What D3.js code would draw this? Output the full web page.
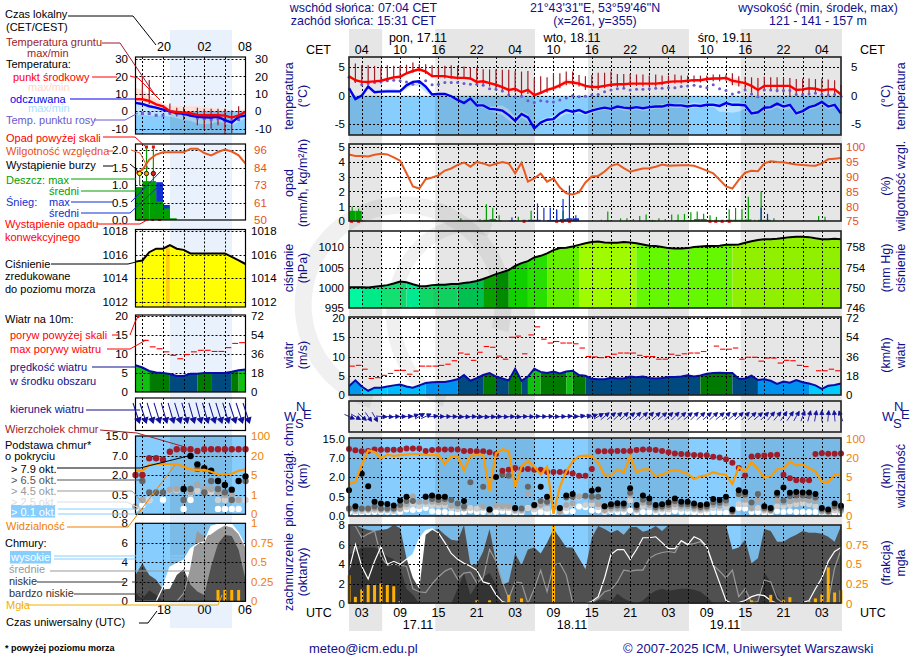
<!DOCTYPE html>
<html>
<head>
<meta charset="utf-8">
<script src="https://cdn.jsdelivr.net/npm/d3@7"></script>
<style>
body { margin: 0; background: #fff; }
svg { display: block; }
text { font-family: "Liberation Sans", Arial, sans-serif; font-size: 12px; }
</style>
</head>
<body>
<svg id="chart" width="910" height="660"></svg>
<script>
const n = null;

// ---- main meteogram, one value per hour, hour 1 = 01 UTC 17.11
const tempMid = [3.4,2.7,2.4,2.4,2.5,2.6,2.9,3.2,3.3,3.9,4.3,4.6,4.2,3.4,3.4,3.4,3.2,3.1,3.1,3.0,2.4,2.5,2.2,1.9,1.5,1.0,1.2,0.6,1.0,0.1,0.5,1.0,1.3,1.8,2.4,2.3,2.1,1.7,1.5,1.5,1.7,1.9,2.0,2.0,2.1,2.1,2.1,2.1,2.1,2.2,2.4,2.5,2.5,2.6,2.7,2.7,2.9,3.0,3.0,3.1,2.6,2.4,2.2,1.7,1.0,1.7,1.7,1.7,1.7,1.7,1.0,1.1,1.3,1.2,0.9,1.1,1.1,0.2];
const tempHi = [3.6,2.9,2.6,2.6,2.7,2.8,3.1,3.4,3.6,4.1,4.5,4.8,4.4,3.7,3.6,3.6,3.4,3.3,3.3,3.2,2.7,2.8,2.4,2.1,1.7,1.3,1.4,.9,1.2,.4,.8,1.3,1.7,2.3,2.9,2.8,2.6,2.0,1.7,1.7,1.9,2.1,2.2,2.2,2.3,2.4,2.4,2.3,2.3,2.4,2.6,2.7,2.7,2.8,2.9,2.9,3.1,3.2,3.3,3.3,3.2,3.0,2.6,2.0,1.3,2.0,2.0,2.0,2.0,2.0,1.3,1.3,1.6,1.5,1.2,1.4,1.4,.5];
const tempLo = [3.2,2.5,2.2,2.2,2.3,2.4,2.7,3.0,3.1,3.7,4.1,4.3,3.9,3.2,3.2,3.2,3.0,2.9,2.9,2.8,2.2,2.3,2.0,1.7,1.3,.8,1.0,.4,.8,-.1,.2,.7,1.0,1.4,1.9,1.9,1.7,1.4,1.3,1.3,1.5,1.7,1.8,1.8,1.9,1.9,1.9,1.9,1.9,2.0,2.2,2.3,2.3,2.4,2.5,2.5,2.7,2.8,2.7,2.7,1.9,1.7,1.5,1.2,.7,1.4,1.4,1.4,1.4,1.4,.8,.9,1.1,1.0,.7,.9,.9,0];
const feels = [1.3,-.6,0,1.6,.6,.7,.75,.75,.75,1.8,2.4,2.5,1.6,.2,.3,.3,-.1,-.75,-1.3,-.5,-1.7,-1.7,-2.3,-2.4,-2.6,-3.4,-4.4,-3.2,-3.8,-5.7,-4.7,-4.2,-4.1,-3.1,-2.5,-2.8,-2.5,-3.0,-2.6,-2.3,-2.1,-2.3,-1.9,-2.1,-2.2,-2.0,-2.2,-2.0,-1.9,-1.9,-1.6,-1.7,-1.7,-1.9,-1.7,-1.8,-1.6,-1.6,-1.8,-1.3,-1.6,-1.6,-1.7,-3.1,-2.9,-2.1,-2.0,-1.4,-1.9,-1.6,-3.1,-2.7,-2.0,-1.7,-1.1,-1.9,-1.6,-3.1];
const feelsHi = [1.4,-.4,.3,1.7,.8,1,1.2,1.2,1.0,1.9,2.5,2.6,1.8,.4,.5,.5,.1,-.5,-1.1,-.3,-1.4,-1.4,-2,-1.8,-1.7,-2.4,-3.7,-2.7,-3.3,-5.3,-4.3,-3.8,-3.6,-2.8,-2.2,-2.5,-2.3,-2.7,-2.3,-2,-1.9,-2.1,-1.7,-1.8,-1.9,-1.7,-1.9,-1.7,-1.6,-1.5,-1.3,-1.4,-1.3,-1.6,-1.2,-1.4,-1.3,-1.2,-1.5,-1,-1.2,-1.2,-1.4,-2.7,-2.5,-1.8,-1.7,-1.2,-1.6,-1.3,-2.7,-2.4,-1.7,-1.4,-.9,-1.6,-1.3,-2.8];
const feelsLo = [1.1,-.8,-.3,1.3,.4,.5,.5,.5,.4,1.2,1.8,1.6,.6,-.1,0,0,-.4,-1,-1.6,-.9,-2,-2.1,-2.6,-3,-3.4,-4.3,-5.1,-3.8,-4.5,-6,-5.1,-4.7,-4.5,-3.8,-3.1,-3.2,-3,-3.4,-3.1,-2.7,-2.5,-2.7,-2.3,-2.6,-2.7,-2.4,-2.7,-2.5,-2.3,-2.3,-2,-2.2,-2.1,-2.3,-2.1,-2.1,-1.9,-2,-2.8,-2.8,-3,-2.8,-2.3,-3.5,-3.2,-2.6,-2.5,-2,-2.6,-2.3,-3.5,-3.1,-2.4,-2.2,-1.6,-2.4,-2,-3.5];
const dewPoint = [3.2,2.6,1.9,2.1,2.3,2.4,2.6,2.7,2.6,2.4,2.0,2.3,2.6,1.9,2.0,2.3,2.3,2.3,2.1,2.0,2.0,1.8,1.2,1.1,.8,.1,-.2,-.1,-.9,-1.2,-.9,-1,-1.1,-.75,-.4,0,-.2,-.1,.1,.2,.7,1,1.2,1.3,1.0,1.1,1.1,1.2,1.3,1.3,1.4,1.4,1.6,1.7,1.8,1.6,1.4,1.9,1.2,.9,.3,.6,1,.3,-.2,1,1,.9,.9,.9,.2,.2,.3,.4,.2,.1,.2,-.1];
const groundMax = [n,5.6,5.3,5.3,5.2,5.0,5.3,5.2,5.2,5.4,5.8,5.5,5.5,5.3,5.0,5.2,5.3,5.2,5.1,5.0,4.9,4.6,4.6,4.6,4.5,4.5,4.3,4.2,4.3,3.0,3.4,3.2,3.9,3.9,4.2,4.2,3.6,3.4,3.6,4,4,4.2,3.8,3.8,3.8,3.7,3.7,3.5,3.7,3.5,3.5,3.7,3.5,3.5,3.5,3.5,3.5,3.7,3.7,3.7,3.9,3.4,3.3,3.2,3.1,3.3,3.2,3.2,3.1,3.1,2.9,3.0,3.0,2.9,3.0,2.8,2.7,1.9];
const groundMin = [n,2.2,2.0,2.2,2.4,2.3,2.6,3.0,3.0,3.8,4.0,4.2,3.8,3.2,3.0,3.0,3.0,2.8,2.9,2.8,2.2,2.0,1.6,1.2,0.8,0.2,0.6,-0.1,0.3,-0.1,0.3,0.5,0.9,1.3,1.8,1.8,1.6,1.0,1.0,1.0,1.3,1.5,1.5,1.5,1.7,1.7,1.6,1.6,1.6,1.8,2.0,2.1,2.1,2.2,2.3,2.3,2.4,2.5,2.5,2.6,1.8,1.6,1.0,0.5,0.0,0.9,1.0,0.6,0.5,-0.1,0.2,0.2,0.3,0.3,0.2,0.3,0.3,0.1];

const humidity = [97.4,96.9,96.9,96.7,97.3,97.6,97.4,96.4,95.3,91.1,86.7,86,89.1,89.7,90.4,92,92.7,93.9,94.7,93.3,94.9,94.4,93.6,94.3,94.9,94.4,91.1,94.6,88.3,89.4,91,88.3,89.4,86.3,84.4,84,84.7,88,90,90.2,91.7,93.6,94.2,92.8,91.6,92.2,92.7,92.8,93.3,94,93.6,93.7,93.8,93.8,93.6,92.8,92,91.1,88.9,86.7,86,88.9,91.3,91.9,91.8,94.4,95.1,94.9,94.8,94.4,94,93.9,93.7,93.6,94.4,95.8,96,96.2];
const rainMaxHours = [1,2,3,18,21,22,23,24,27,29,33,34,40,41,43,44,45,46,47,48,49,50,51,52,53,54,55,56,57,58,60,61,62,63,64,65,66,67,74,75];
const rainMaxVals = [1.0,.85,.05,.2,.15,1.15,.9,.4,.3,.7,.75,.7,.1,.65,.2,.2,.15,.35,.45,.1,.2,.15,.45,.45,.5,.6,.65,.5,.4,.3,.8,.9,.8,1.65,.1,2.0,.2,.2,.35,.3];
const rainMeanHours = [1,2,21,22,23,24,41,48,52,53,54,55,56,57,58,60,61,62,63,65,66];
const rainMeanVals = [.7,.7,.04,.1,.15,.05,.05,.05,.07,.07,.08,.15,.15,.05,.05,.1,.1,.1,.12,.1,.1];
const snowMaxHours = [26,30,31,32,33,34,35,36,65,66];
const snowMaxVals = [.25,1.2,.9,.9,.8,1.5,2.4,.4,.9,.5];
const snowMeanHours = [26,29,30,32,33,34,35,36];
const snowMeanVals = [.05,.1,.1,.08,.08,.15,.2,.2];
const convectiveHours = [1.4,2.5,28.4,33.5,34.4,35.5,57.5,58.4,59.4,60.5];

const pressure = [1000.2,1000.2,1000.2,1000.1,1000.3,1000.5,1000.7,1001.1,1001.6,1001.4,1000.9,1000.5,1000.4,1000.7,1000.8,1000.8,1001,1001,1001.2,1001.4,1001.7,1002.2,1002.8,1003.4,1003.9,1004.4,1005.4,1006.1,1006.6,1007.5,1007.9,1008.5,1009.3,1009.8,1009.9,1010.2,1010.6,1011,1011.3,1011.4,1011.2,1011.1,1011.1,1011.3,1011.2,1011,1010.7,1010.4,1010.3,1010.1,1009.8,1009.7,1009.7,1009.8,1010.1,1010.2,1010.3,1010.3,1010.4,1010.6,1010.6,1010.7,1011.1,1011.5,1011.8,1012,1012,1012.1,1012.3,1012.5,1012.6,1012.6,1012.5,1012.2,1012,1012,1012.1,1012];
const pressureSegHours = [1,3,6,9,10,12,14,18,22,24,26,29,32,37,46,61,78];
const pressureSegColors = ['#00f8a0','#00ea88','#12e070','#10d868','#00e890','#10d868','#10d060','#00c050','#0a9f00','#008a00','#10d000','#28e000','#66f000','#a0fa00','#66f800','#90f000'];

const windSpeed = [2.3,3.8,2.2,1.1,1.9,1.9,2.2,2.5,2.7,2.2,1.9,2.5,3.1,3.3,3.4,3.4,3.7,4.1,5.2,3.7,4.4,5.2,5.7,4.8,4.3,3.8,6.8,3.7,4.8,6.8,6,5.7,6.1,5.6,6.1,6.3,5.2,5,4.2,4.1,4.1,4.5,4.3,4.3,4.8,4.6,4.8,4.4,4.3,4.4,4.7,4.7,4.8,5.1,4.8,5.1,5.5,5.7,5.8,5.7,5.7,4.2,4.3,5,3.9,4.1,3.7,2.9,3.5,3.2,3.9,3.3,3,2.5,1.6,2.4,2.6,3];
const windSegHours = [1,3,7,13,18,22,24,26,28,29,31,35,36,38,56,61,65,73,78];
const windSegColors = ['#0099ee','#00ccff','#00bbff','#0090ee','#004a80','#007a00','#004a80','#007a00','#004a80','#10c010','#007a00','#10c010','#007a00','#004a80','#007a00','#004a80','#0090ee','#00ccff'];
const gust = [7.5,7.7,6.7,4.3,4.5,5.1,5.6,6.4,6.4,5.4,6.2,7.5,7.5,7.5,7.7,8,8.9,10.9,10.6,9,11.1,12.6,12.4,10.1,9.3,15,15.3,10.7,15.6,17.7,14.5,13.5,13.9,13.5,13.5,13.3,12.2,10,9.9,9.7,10,10.6,10.9,10.9,10.9,10.3,10,10,9.3,9.3,10.6,10.3,10.7,10.9,10.9,11.3,n,12.7,11.9,11.9,12.2,9.3,9.8,9.8,8.8,9.6,9.6,8.3,9,8.9,7.7,7.4,n,6.3,6.3,6.7,6.3];
const windTo = [115,120,130,145,150,95,95,90,90,85,70,60,65,85,90,90,92,95,95,92,95,98,95,92,95,92,95,90,92,88,90,88,92,90,85,88,80,78,70,60,50,50,48,48,50,45,48,45,48,50,48,45,48,50,45,48,50,48,50,45,50,48,45,48,50,45,40,40,35,35,30,20,15,10,0,5,355,340];

const cloudTop = [10.6,10.1,9.7,9.8,10.4,10.3,10.3,10.3,10.3,10.8,10.8,10.8,9.8,10.2,10.4,10.4,10.4,10.4,9.8,9.8,9.7,9.7,9.3,8.5,3.6,3.9,4.3,4,4.1,3.9,3.9,3.3,3.3,3.3,3.2,2.9,2.3,2.3,4.1,9.7,9.7,9.7,9.8,9.8,9.8,10.2,10.4,10.4,10.2,9.8,9.3,8.8,8.5,8.4,8.1,8,8,7.4,7.1,6.6,5.7,4.3,2.4,7.5,7.8,7.9,8.1,8.2,2.6,1.9,1.75,1.75,1.75,8.5,8.9,8.6,8.6,8.8];
const base79 = [1.0,.25,2.85,1.3,.37,.32,.31,.27,.4,.5,n,n,.5,.6,.5,.5,n,n,.39,n,n,n,.16,2.0,n,n,.2,n,n,.28,1.25,.5,n,.2,.6,.7,n,n,.95,1.05,.25,.3,.33,.32,1.15,.28,.6,.45,.28,.3,.35,.45,.37,.37,.32,.28,.3,.44,.41,.5,.16,1.0,.85,n,n,.25,.2,.8,1.2,.8,.85,.82,.82,.7,.2,.16,.32,.26];
const base65 = [.19,.19,.19,.19,.24,.19,.19,.19,.28,.39,.39,n,.51,.44,.41,.44,.41,.32,.24,1.6,n,1.25,.16,n,2.6,2.3,.19,.19,1.25,.28,.39,.37,n,.19,.48,.5,n,.58,.5,.5,.24,.25,.27,.26,.8,.22,.42,.35,.22,.24,.28,.38,.3,.3,.26,.22,.24,.35,.34,.4,.12,.7,.65,.35,.7,.2,.16,.65,.4,.55,.6,.6,.55,.48,.16,.12,.25,.2];
const base45 = [.19,.16,.16,.16,.19,.16,.16,.16,.19,.3,.52,.37,.37,.37,.35,.35,.26,.24,.19,1.6,n,.24,.13,.26,.25,.25,.15,.15,.72,.24,.28,.33,n,.1,.28,.33,.52,.5,.41,.3,.15,.19,.2,.2,.6,.17,.34,.28,.18,.2,.22,.3,.24,.24,.2,.18,.2,.28,.26,.32,.1,.6,.42,.2,.4,.16,.14,.4,.35,.38,.42,.44,.4,.38,.12,.1,.2,.15];
const base25 = [.15,.12,.12,.14,.15,.14,.14,.12,.17,.22,.3,.25,.3,.28,.26,.26,.2,.17,.2,.2,.18,.2,.1,.22,.2,.2,.12,.12,.2,.16,.24,.18,n,.08,.2,.3,.48,.28,.3,.22,.12,.15,.16,.16,.4,.14,.24,.22,.14,.16,.16,.22,.18,.18,.16,.14,.16,.2,.2,.22,.08,.3,.3,.18,.2,.13,.12,.25,.25,.28,.3,.32,.3,.25,.1,.08,.14,.12];
const base01 = [.1,.08,.08,.09,.1,.1,.1,.09,.1,.16,.15,.17,.2,.12,.1,.1,.08,.08,.1,.13,.1,.1,n,.1,.12,.1,.08,.08,.2,.1,.1,.08,.1,.08,.12,.12,.24,.22,.14,.14,.1,.12,.1,.1,.14,.09,.1,.1,.09,.1,.1,.12,.1,.1,.09,.08,.08,.1,.09,.08,.05,.2,.18,.1,.1,.08,.08,.12,.1,.12,.1,.1,.1,.1,.06,.05,.08,.06];
const visibility = [3.6,4,14.4,51,44,19.5,33,28,31,33,35,35,32,31,31,15.2,25,25,10,28,32,32,2.2,38,55,47,3,13,17.5,13,6.8,13,.1,3,9.3,17,27,29,28,16,6.3,6,11,8.5,27,8.5,11,11,5.5,6.8,9.3,10.6,9.3,7.5,4.6,5.5,6.3,8.8,7.3,6.8,3.6,12.6,9.3,16.7,11,4.9,5.5,11,11.6,17,14,14.7,12,9.3,4,4,6.8,6.3];

const cloudHigh = [3.4,6,3.8,2.5,4.3,5.8,4,4.3,4,4.5,5,6.6,7.4,7.6,7.2,6.2,5.1,4.5,4.1,3.8,3.4,2.2,2,.9,.2,0,0,0,0,0,0,0,0,0,0,0,0,0,.2,.7,2.6,5,5.5,5.5,4.5,5.5,6.7,6.7,6.8,6.2,5.6,5.6,6.4,6,6.8,6.5,5.8,3.9,2.1,.3,0,.1,.3,.7,.9,.8,.3,0,0,0,0,.1,.3,1.5,2.6,4.3,5.3,5.7];
const cloudMid = [8,7.9,6.7,7.1,7.4,4.8,3.9,4,3.9,3.8,1.5,1.2,1.1,2,2.7,3.3,3.6,2.5,3.1,3.2,2.1,2.6,5.5,4.3,2.2,.5,2.2,2.1,0,1.5,3.4,1.2,3.9,4.1,2.9,.1,0,0,.1,.5,1.2,1.4,2.2,3.4,3.3,3.4,3.4,4.6,5,5.2,5.3,5.2,6.4,6,6.1,6.3,5.7,3.9,3.3,2.6,3.4,.7,1.5,.1,.2,2.4,2.2,.5,0,0,0,0,0,0,0,.2,3.6,5.5];
const cloudLow = [8,8,7.7,7.5,7.4,7.5,7.6,8,7.7,4.6,2.6,1.5,7,7.5,7.6,7,6.5,6.4,8,3.9,4,5.3,7.6,4.3,1.9,2.2,5.1,3.9,5.5,5.7,5.1,6.2,7.6,6.7,5.7,5.7,4.6,3.5,6.7,7.9,7.6,7.2,7.5,7,7.8,7.8,7.3,7.5,7.9,7.4,8,8,8,8,8,8,8,8,8,8,5.5,5.7,6.5,4.1,4.6,7.6,7.4,6.3,6.3,6.7,7,7.4,7.2,7.2,7.1,6.8,6.3,7.9];
const cloudVeryLow = [5,5.3,5.7,5.7,5.7,5.4,4.8,4.5,3.6,1.5,.9,0,0,0,0,0,0,1.5,3.1,.9,1.9,2.7,3.1,1.9,.2,0,0,0,0,0,0,0,0,0,0,0,0,0,0,.3,.4,.2,1,.5,.2,0,.3,.9,1.3,1.5,1.3,1.4,1.5,1.5,1.4,1.2,.7,0,0,0,0,0,0,0,0,3.1,2.2,.9,0,0,0,0,0,0,0,0,0,0];
const fogHours = [1,2,3,4,5,6,7,8,9,21,23,25,26,28,33,64,67,69,70,73,74,75,76,77,78];
const fogVals = [.36,.085,.18,.235,.235,.255,.235,.22,.03,.04,.04,.02,.11,.065,1,.04,.11,.04,.08,.03,.065,.115,.46,.14,.17];

// day (white) stretches of the main panel, in hours
const dayStart = [6.2, 30.1, 54.2];
const dayEnd = [14.5, 38.4, 62.3];
const gridHours = [3,6,9,12,15,18,21,24,27,30,33,36,39,42,45,48,51,54,57,60,63,66,69,72,75];
const labelHours = [3,9,15,21,27,33,39,45,51,57,63,69,75];
const cetLabels = ['04','10','16','22','04','10','16','22','04','10','16','22','04'];
const utcLabels = ['03','09','15','21','03','09','15','21','03','09','15','21','03'];

// ---- left small meteogram, hours 14 UTC to 06 UTC (hour 30)
const leftHours = [14,15,16,17,18,19,20,21,22,23,24,25,26,27,28,29,30];
const leftTemp = [7,6.9,5.9,4,2.9,0,-.4,-.8,-1.1,-2.1,-2.3,-2.3,-2.3,-2.5,-3.6,-2.3,-.4];
const leftTempHi = [13.5,12,9.5,7,4.5,3,2.9,2.9,2.9,2.9,2.5,2,1.3,.8,0,.3,1.5];
const leftTempLo = [2,1.5,.5,.3,0,-.5,-1,-1.5,-2,-3,-3.2,-3.2,-3,-4,-4.5,-3,-1.5];
const leftFeels = [4.8,4.2,2.9,2.1,1,0,-1,-1.5,-2.5,-3.2,-3.4,-3.6,-3.2,-5.1,-6.5,-3.2,-2.5];
const leftFeelsHi = [5.5,5,3.5,2.5,1.5,.5,-.5,-1,-2,-2.5,-2.5,-3,-2.5,-4.3,-5.7,-2.5,-2];
const leftFeelsLo = [-2,-2,-2.5,-2.5,-2.5,-3,-4,-5,-5.5,-7,-7.5,-7,-6,-7,-8,-6,-4];
const leftDew = [n,-1.3,-1.3,-2.3,-2.3,-1,-1.3,-1.7,-2.3,-3.8,-4.2,-4.6,-4.2,-5.5,-5.5,-4.8,n];
const leftGroundMax = [n,20,18,n,n,4.5,2,2.5,n,2,1.5,1.5,1.5,1.5,.6,2.9,n];
const leftGroundMin = [n,8,4,n,n,-2,-3,-5,n,-8,-10,-10,-8,-13,-12.5,-5,n];

const leftHumidity = [80.8,83,89.6,93,94.5,94.5,94.5,94.5,96.9,96.9,94,92.5,94.7,96.3,95,92.5,87];
const leftRainMean = [.94,1.11,1.11,.53,.33,.05];
const leftSnowMean = [0,0,0,1.08,.43,0];
const leftRainHours = [14,15,16,17,18,19];
const stormHours = [14.6,15.6,16.6];
const stormColors = ['#ffee00','#f0a000','#e02020'];
const leftStemTop = [1.4,2.05,2.05];
const leftConvHours = [14.5,15.5,16.5,17.5];

const leftPressure = [1015.4,1015.5,1016.2,1016.5,1016.5,1016.8,1016.5,1016.4,1016.1,1016.1,1016.1,1016.1,1016.1,1016.1,1015.8,1015.5,1015.2];
const leftWind = [7,6.4,5.5,5.1,5,4.7,4.2,4.2,4.8,4.8,5,5,5,5,5.3,5.7,5.9];
const leftWindSegHours = [14,16,19,23,25,28,29,30];
const leftWindSegColors = ['#10c010','#007a00','#004a80','#007a00','#004a80','#007a00','#10c010'];
const leftGust = [n,13.5,11.8,11.3,10.5,9.6,8.7,9.8,10.5,10.9,10.9,10.6,10.6,11.6,12.7,12.9];
const leftWindTo = [162,162,163,163,164,164,163,164,164,165,164,163,163,163,162,162,162];

const leftCloudTop = [2,2,6.4,6.4,6,8.7,9.7,9.7,9.7,9,9.7,9.7,9.7,9.7,9.7,9.7,9.7];
const leftBase79 = [n,n,n,n,n,n,n,.95,7,4.8,3.8,3.1,1.55,1.25,.9,1.55,1.9];
const leftBase65 = [n,1.55,.7,.7,.7,n,n,.37,.95,3.6,.7,1.55,.95,.7,.37,n,1.55];
const leftBase45 = [.2,.37,n,n,n,.9,.95,n,.7,1.25,.95,.95,.7,.5,.5,.37,n];
const leftBase25 = [.2,n,.37,n,n,.85,.85,n,.6,.8,.8,.7,.37,.37,.37,.37,.37];
const leftBase01 = [.15,.24,.37,n,.38,n,n,.14,.37,n,n,n,.14,.14,.14,.14,n];
const leftVisibility = [8.4,8.4,13,13.7,13.7,13.7,13.7,11.6,9.5,9,9,7.6,5.5,5.5,6,8.4,9.5];

const leftCloudHigh = [0,0,0,0,1.5,3.5,3.9,4.2,5.4,5.9,6.1,7.7,7.9,7.9,7.9,7,5.6];
const leftCloudMid = [0,0,0,0,0,0,0,.8,3.2,7.1,6.6,6.8,7.3,7.7,7.5,6.8,5.6];
const leftCloudLow = [2.7,3.9,2.7,2.2,1.2,1.3,2.7,3.3,1.7,1,.65,3.6,5.9,6.8,6.7,5.3,2.2];
const leftCloudVeryLow = [.8,.3,1.1,.65,0,0,0,0,0,0,0,0,0,0,0,0,0];
const leftFogHours = [26,27,28,29];
const leftFogVals = [.145,.145,.145,.145];

const leftGridHours = [15,18,21,24,27];

// ---- colours
const NAVY = '#10108c';
const ORANGE = '#f08000';
const RH_ORANGE = '#e85020';
const SKY = '#87ceff';
const RED = '#ff0000';
const DARKRED = '#a01c28';
const DEW = '#6a5acd';
const dotLevels = [
  ['#ffffff', base01, leftBase01], ['#d0d0d0', base25, leftBase25], ['#a8a8a8', base45, leftBase45],
  ['#666666', base65, leftBase65], ['#000000', base79, leftBase79]
];

const svg = d3.select('#chart');
const mainHours = d3.range(1, 79);

// simple text helper
function label(x, y, s, color, anchor, size) {
  return svg.append('text').attr('x', x).attr('y', y).attr('fill', color || '#000')
    .attr('text-anchor', anchor || 'start').style('font-size', (size || 12) + 'px').text(s);
}
function vlabel(x, y, s) {
  svg.append('text').attr('transform', `translate(${x},${y}) rotate(-90)`)
    .attr('fill', NAVY).attr('text-anchor', 'middle').style('font-size', '12.5px').text(s);
}
function pairs(hours, vals) {
  return vals.map((v, i) => ({ h: hours[i], v: v }));
}

// backgrounds
svg.append('rect').attr('x', 170).attr('y', 30).attr('width', 62).attr('height', 598).attr('fill', '#e9f1fd');

const xMain = d3.scaleLinear().domain([1, 78]).range([349, 841]);
const xLeft = d3.scaleLinear().domain([14, 30]).range([135.5, 245.5]);

svg.append('rect').attr('x', 349).attr('y', 29).attr('width', 493).attr('height', 602).attr('fill', '#e6e6e6');
svg.selectAll('.day').data(dayStart).enter().append('rect')
  .attr('x', d => xMain(d)).attr('y', 29)
  .attr('width', (d, i) => xMain(dayEnd[i]) - xMain(d)).attr('height', 602).attr('fill', '#fff');

// swirl watermark behind the main panels
const swirl = svg.append('g').attr('fill', 'none').attr('stroke', '#000').attr('stroke-opacity', 0.06);
swirl.append('path').attr('d', 'M372,400 A100,100 0 1 1 500,330').attr('stroke-width', 17);
swirl.append('path').attr('d', 'M445,400 A50,60 0 0 1 490,230').attr('stroke-width', 14);

function grid(g, x, gridX, y, gridY, box) {
  g.selectAll(null).data(gridX).enter().append('line')
    .attr('x1', d => Math.round(x(d)) + 0.5).attr('x2', d => Math.round(x(d)) + 0.5)
    .attr('y1', box.top).attr('y2', box.bottom)
    .attr('stroke', '#000').attr('stroke-dasharray', '2,2');
  g.selectAll(null).data(gridY).enter().append('line')
    .attr('y1', d => Math.round(y(d)) + 0.5).attr('y2', d => Math.round(y(d)) + 0.5)
    .attr('x1', box.left).attr('x2', box.right)
    .attr('stroke', '#000').attr('stroke-dasharray', '2,2');
}
function frame(g, box, main) {
  g.append('rect').attr('x', box.left).attr('y', box.top)
    .attr('width', box.right - box.left).attr('height', box.bottom - box.top)
    .attr('fill', 'none').attr('stroke', main ? '#222' : '#000').attr('stroke-width', main ? 1.6 : 1.2);
}
function axisAt(g, side, px, scale, values, color, format) {
  const ax = (side == 'left' ? d3.axisLeft(scale) : d3.axisRight(scale))
    .tickValues(values).tickSize(0).tickPadding(0).tickFormat(format || (d => String(d)));
  const a = g.append('g').attr('transform', `translate(${px},0)`).call(ax);
  a.select('.domain').remove();
  a.selectAll('text').attr('fill', color || '#000')
    .style('font-family', '"Liberation Sans", Arial, sans-serif').style('font-size', '11.5px');
}
// darken the sky fills under the night bands
function shadeMain(g, box) {
  const edges = [1, dayStart[0], dayEnd[0], dayStart[1], dayEnd[1], dayStart[2], dayEnd[2], 78];
  for (let i = 0; i < edges.length; i += 2) {
    g.append('rect').attr('x', xMain(edges[i])).attr('width', xMain(edges[i + 1]) - xMain(edges[i]))
      .attr('y', box.top).attr('height', box.bottom - box.top).attr('fill', '#000').attr('opacity', 0.1);
  }
}
function shadeLeft(g, box) {
  g.append('rect').attr('x', 170).attr('width', 62).attr('y', box.top)
    .attr('height', box.bottom - box.top).attr('fill', '#000').attr('opacity', 0.09);
}

// ---- panels, shared by the main and the left meteogram
function drawTemperature(o) {
  const g = svg.append('g'), x = o.x, y = o.y, box = o.box;
  const ln = a => d3.line().defined(d => d != null).x((d, i) => x(o.hours[i])).y(d => y(d))(a);
  const band = (hi, lo) => d3.area().x((d, i) => x(o.hours[i])).y0((d, i) => y(lo[i])).y1(d => y(d))(hi);
  g.append('path').attr('d', band(o.tHi, o.tLo)).attr('fill', '#ffdcd0').attr('opacity', 0.85);
  g.append('rect').attr('x', box.left).attr('width', box.right - box.left).attr('y', y(0))
    .attr('height', box.bottom - y(0)).attr('fill', SKY);
  g.append('path').attr('d', band(o.fHi, o.fLo)).attr('fill', '#c0e6ff').attr('opacity', 0.9);
  o.shade(g, { top: y(0), bottom: box.bottom });
  grid(g, x, o.gridX, y, o.gridY, box);
  o.gMax.forEach((v, i) => {
    if (v == null) return;
    g.append('line').attr('x1', x(o.hours[i])).attr('x2', x(o.hours[i]))
      .attr('y1', y(v)).attr('y2', y(o.gMin[i])).attr('stroke', DARKRED).attr('stroke-width', 1.2);
  });
  g.selectAll(null).data(o.dew.map((v, i) => ({ h: o.hours[i], v: v })).filter(d => d.v != null)).enter()
    .append('rect').attr('x', d => x(d.h) - 1.5).attr('y', d => y(d.v) - 1.5).attr('width', 3).attr('height', 3)
    .attr('rx', o.main ? 1.5 : 0).attr('fill', DEW);
  g.append('path').attr('d', ln(o.feels)).attr('fill', 'none').attr('stroke', '#0000ee').attr('stroke-width', 2.4);
  g.append('path').attr('d', ln(o.temp)).attr('fill', 'none').attr('stroke', RED).attr('stroke-width', 2.4);
  frame(g, box, o.main);
  return g;
}

function segmentedArea(g, o) {
  // coloured rectangles clipped to the area under the line
  const id = 'clip' + Math.round(o.box.top) + '_' + Math.round(o.box.left);
  const area = d3.area().x((d, i) => o.x(o.hours[i])).y0(o.box.bottom).y1(d => o.y(d));
  g.append('clipPath').attr('id', id).append('path').attr('d', area(o.values));
  g.append('g').attr('clip-path', `url(#${id})`).selectAll('rect').data(o.colors).enter().append('rect')
    .attr('x', (d, i) => o.x(o.segHours[i]))
    .attr('width', (d, i) => o.x(o.segHours[i + 1]) - o.x(o.segHours[i]))
    .attr('y', o.box.top).attr('height', o.box.bottom - o.box.top).attr('fill', d => d);
}

function drawWind(o) {
  const g = svg.append('g'), x = o.x, y = o.y, box = o.box;
  segmentedArea(g, { x: x, y: y, hours: o.hours, values: o.speed, box: box, colors: o.colors, segHours: o.segHours });
  grid(g, x, o.gridX, y, [5, 10, 15, 20], box);
  g.append('path').attr('d', d3.line().x((d, i) => x(o.hours[i])).y(d => y(d))(o.speed))
    .attr('fill', 'none').attr('stroke', '#0a0aa8').attr('stroke-width', 2);
  o.gust.forEach((v, i) => {
    if (v == null) return;
    g.append('line').attr('x1', x(o.hours[i]) + 0.5).attr('x2', x(o.hours[i] + 1) - 0.5)
      .attr('y1', y(v)).attr('y2', y(v)).attr('stroke', RED).attr('stroke-width', 1.1);
  });
  frame(g, box, o.main);
  return g;
}

function drawCloudBase(o) {
  const g = svg.append('g'), x = o.x, y = o.y, box = o.box;
  g.append('rect').attr('x', box.left).attr('y', box.top).attr('width', box.right - box.left)
    .attr('height', box.bottom - box.top).attr('fill', SKY);
  o.shade(g, box);
  grid(g, x, o.gridX, y, [.5, 2, 7], box);
  const r = o.r;
  dotLevels.forEach(level => {
    const arr = level[o.idx];
    g.selectAll(null).data(arr.map((v, i) => ({ h: o.hours[i], v: v })).filter(d => d.v != null)).enter()
      .append('circle').attr('cx', d => x(d.h)).attr('cy', d => y(d.v)).attr('r', r).attr('fill', level[0]);
  });
  g.selectAll(null).data(o.top.map((v, i) => ({ h: o.hours[i], v: v }))).enter()
    .append('circle').attr('cx', d => x(d.h)).attr('cy', d => y(d.v)).attr('r', r).attr('fill', DARKRED);
  g.append('path').attr('d', d3.line().x((d, i) => x(o.hours[i])).y(d => o.yVis(d))(o.vis))
    .attr('fill', 'none').attr('stroke', '#ff9a00').attr('stroke-width', 2.2);
  frame(g, box, o.main);
  return g;
}

function drawClouds(o) {
  const g = svg.append('g'), x = o.x, y = o.y, box = o.box;
  g.append('rect').attr('x', box.left).attr('y', box.top).attr('width', box.right - box.left)
    .attr('height', box.bottom - box.top).attr('fill', SKY);
  o.shade(g, box);
  const area = d3.area().x((d, i) => x(o.hours[i])).y0(y(0)).y1(d => y(d));
  g.append('path').attr('d', area(o.high)).attr('fill', '#fff');
  g.append('path').attr('d', area(o.mid)).attr('fill', '#999');
  g.append('path').attr('d', area(o.low)).attr('fill', '#505050');
  g.append('path').attr('d', area(o.veryLow)).attr('fill', '#333');
  const ln = d3.line().x((d, i) => x(o.hours[i])).y(d => y(d));
  g.append('path').attr('d', ln(o.mid)).attr('fill', 'none').attr('stroke', '#999').attr('stroke-width', 1.2);
  g.append('path').attr('d', ln(o.high)).attr('fill', 'none').attr('stroke', '#fff').attr('stroke-width', 1.2);
  g.selectAll(null).data(pairs(o.fogHours, o.fogVals)).enter().append('rect')
    .attr('x', d => x(d.h) - 1.5).attr('width', 3).attr('y', d => o.yFog(d.v))
    .attr('height', d => o.yFog(0) - o.yFog(d.v)).attr('fill', '#ffb000');
  grid(g, x, o.gridX, y, [2, 4, 6], box);
  frame(g, box, o.main);
  return g;
}

// ---- main panels
const boxTemp = { left: 349, right: 841, top: 57, bottom: 135 };
const yTemp = d3.scaleLinear().domain([-5, 5]).range([124.3, 67]);
const gT = drawTemperature({ x: xMain, y: yTemp, box: boxTemp, hours: mainHours, gridX: gridHours, gridY: [-5, 0, 5],
  temp: tempMid, tHi: tempHi, tLo: tempLo, feels: feels, fHi: feelsHi, fLo: feelsLo, dew: dewPoint,
  gMax: groundMax, gMin: groundMin, shade: shadeMain, main: true });
axisAt(gT, 'left', 345, yTemp, [-5, 0, 5]);
axisAt(gT, 'right', 851, yTemp, [-5, 0, 5]);

const boxRain = { left: 349, right: 841, top: 144, bottom: 221 };
const yRain = d3.scaleLinear().domain([0, 5]).range([221.3, 146.7]);
const yHum = d3.scaleLinear().domain([75, 100]).range([221.3, 146.7]);
const gR = svg.append('g');
gR.selectAll(null).data(pairs(snowMeanHours, snowMeanVals)).enter().append('rect')
  .attr('x', d => xMain(d.h)).attr('width', d => xMain(d.h + 1) - xMain(d.h)).attr('y', d => yRain(d.v))
  .attr('height', d => yRain(0) - yRain(d.v)).attr('fill', '#1030d0');
gR.selectAll(null).data(pairs(rainMeanHours, rainMeanVals)).enter().append('rect')
  .attr('x', d => xMain(d.h)).attr('width', d => xMain(d.h + 1) - xMain(d.h)).attr('y', d => yRain(d.v))
  .attr('height', d => yRain(0) - yRain(d.v)).attr('fill', '#00a000');
grid(gR, xMain, gridHours, yRain, [1, 2, 3, 4, 5], boxRain);
gR.selectAll(null).data(pairs(rainMaxHours, rainMaxVals)).enter().append('line')
  .attr('x1', d => xMain(d.h + .5)).attr('x2', d => xMain(d.h + .5)).attr('y1', d => yRain(d.v)).attr('y2', yRain(0))
  .attr('stroke', '#00a000').attr('stroke-width', 1.2);
gR.selectAll(null).data(pairs(snowMaxHours, snowMaxVals)).enter().append('line')
  .attr('x1', d => xMain(d.h + .5)).attr('x2', d => xMain(d.h + .5)).attr('y1', d => yRain(d.v)).attr('y2', yRain(0))
  .attr('stroke', '#1030d0').attr('stroke-width', 1.2);
gR.append('path').attr('d', d3.line().x((d, i) => xMain(mainHours[i])).y(d => yHum(d))(humidity))
  .attr('fill', 'none').attr('stroke', '#e85a20').attr('stroke-width', 2);
gR.selectAll(null).data(convectiveHours).enter().append('rect')
  .attr('x', d => xMain(d) - 1.5).attr('y', yRain(0) - 1.5).attr('width', 3).attr('height', 3).attr('fill', '#e01010');
frame(gR, boxRain, true);
axisAt(gR, 'left', 345, yRain, [0, 1, 2, 3, 4, 5]);
axisAt(gR, 'right', 846, yHum, [75, 80, 85, 90, 95, 100], RH_ORANGE);

const boxPress = { left: 349, right: 841, top: 231, bottom: 308 };
const yPress = d3.scaleLinear().domain([995, 1010]).range([308.3, 247.3]);
const yMm = d3.scaleLinear().domain([746, 758]).range([308.3, 247.3]);
const gP = svg.append('g');
segmentedArea(gP, { x: xMain, y: yPress, hours: mainHours, values: pressure, box: boxPress, colors: pressureSegColors, segHours: pressureSegHours });
grid(gP, xMain, gridHours, yPress, [1000, 1005, 1010], boxPress);
gP.append('path').attr('d', d3.line().x((d, i) => xMain(mainHours[i])).y(d => yPress(d))(pressure))
  .attr('fill', 'none').attr('stroke', '#000').attr('stroke-width', 2);
frame(gP, boxPress, true);
axisAt(gP, 'left', 344, yPress, [995, 1000, 1005, 1010]);
axisAt(gP, 'right', 846, yMm, [746, 750, 754, 758]);

const boxWind = { left: 349, right: 841, top: 317, bottom: 395 };
const yWind = d3.scaleLinear().domain([0, 20]).range([395, 318]);
const yKmh = d3.scaleLinear().domain([0, 72]).range([395, 318]);
const gW = drawWind({ x: xMain, y: yWind, box: boxWind, hours: mainHours, gridX: gridHours, speed: windSpeed,
  colors: windSegColors, segHours: windSegHours, gust: gust, main: true });
axisAt(gW, 'left', 345, yWind, [0, 5, 10, 15, 20]);
axisAt(gW, 'right', 846, yKmh, [0, 18, 36, 54, 72]);

// wind direction
const boxDir = { left: 349, right: 841, top: 401, bottom: 432 };
const gD = svg.append('g');
grid(gD, xMain, gridHours, d3.scaleLinear(), [], boxDir);
gD.selectAll(null).data(windTo).enter().append('path')
  .attr('transform', (d, i) => `translate(${xMain(i + 1)},416.5) rotate(${d})`)
  .attr('d', 'M0,5 L0,-2 M-2,-2 L0,-6 L2,-2 Z').attr('fill', '#10109c').attr('stroke', '#10109c').attr('stroke-width', 0.8);
frame(gD, boxDir, true);

const hEdges = [0, .5, 2, 7, 15];
const visEdges = [0, 1, 5, 20, 100];
const boxBase = { left: 349, right: 841, top: 438, bottom: 516 };
const yBase = d3.scaleLinear().domain(hEdges).range([515.7, 496.7, 477, 457.7, 438.5]);
const yVis = d3.scaleLinear().domain(visEdges).range([515.7, 496.7, 477, 457.7, 438.5]);
const gB = drawCloudBase({ x: xMain, y: yBase, yVis: yVis, box: boxBase, hours: mainHours, gridX: gridHours,
  top: cloudTop, vis: visibility, shade: shadeMain, r: 3, idx: 1, main: true });
axisAt(gB, 'left', 345, yBase, hEdges, '#000', d3.format('.1f'));
axisAt(gB, 'right', 846, yVis, visEdges, ORANGE);

const boxCover = { left: 349, right: 841, top: 525, bottom: 603 };
const yCover = d3.scaleLinear().domain([0, 8]).range([603.5, 525]);
const yFog = d3.scaleLinear().domain([0, 1]).range([603.5, 525]);
const gC = drawClouds({ x: xMain, y: yCover, yFog: yFog, box: boxCover, hours: mainHours, gridX: gridHours,
  high: cloudHigh, mid: cloudMid, low: cloudLow, veryLow: cloudVeryLow, fogHours: fogHours, fogVals: fogVals, shade: shadeMain, main: true });
axisAt(gC, 'left', 345, yCover, [0, 2, 4, 6, 8]);
axisAt(gC, 'right', 846, yFog, [0, .25, .5, .75, 1], ORANGE);

// ---- left panels
const lTemp = { left: 135.5, right: 245.5, top: 57, bottom: 134 };
const yLT = d3.scaleLinear().domain([-10, 30]).range([128.7, 59]);
const gLT = drawTemperature({ x: xLeft, y: yLT, box: lTemp, hours: leftHours, gridX: leftGridHours, gridY: [-10, 0, 10, 20, 30],
  temp: leftTemp, tHi: leftTempHi, tLo: leftTempLo, feels: leftFeels, fHi: leftFeelsHi, fLo: leftFeelsLo, dew: leftDew,
  gMax: leftGroundMax, gMin: leftGroundMin, shade: shadeLeft, main: false });
axisAt(gLT, 'left', 128, yLT, [-10, 0, 10, 20, 30]);
axisAt(gLT, 'right', 255, yLT, [-10, 0, 10, 20, 30]);

const lRain = { left: 135.5, right: 245.5, top: 144, bottom: 220 };
const yLR = d3.scaleLinear().domain([0, 2]).range([220, 150]);
const yLH = d3.scaleLinear().domain([50, 96]).range([220, 150]);
const gLR = svg.append('g');
gLR.selectAll(null).data(pairs(leftRainHours, leftSnowMean)).enter().append('rect')
  .attr('x', d => xLeft(d.h)).attr('width', d => xLeft(d.h + 1) - xLeft(d.h)).attr('y', d => yLR(d.v))
  .attr('height', d => yLR(0) - yLR(d.v)).attr('fill', '#1030d0');
gLR.selectAll(null).data(pairs(leftRainHours, leftRainMean)).enter().append('rect')
  .attr('x', d => xLeft(d.h)).attr('width', d => xLeft(d.h + 1) - xLeft(d.h)).attr('y', d => yLR(d.v))
  .attr('height', d => yLR(0) - yLR(d.v)).attr('fill', '#00a000');
grid(gLR, xLeft, leftGridHours, yLR, [.5, 1, 1.5, 2], lRain);
gLR.selectAll(null).data(pairs(stormHours, leftStemTop)).enter().append('line')
  .attr('x1', d => xLeft(d.h)).attr('x2', d => xLeft(d.h)).attr('y1', d => yLR(d.v)).attr('y2', yLR(1))
  .attr('stroke', '#00a000').attr('stroke-width', 1.2);
gLR.append('path').attr('d', d3.line().x((d, i) => xLeft(leftHours[i])).y(d => yLH(d))(leftHumidity))
  .attr('fill', 'none').attr('stroke', '#e85a20').attr('stroke-width', 2);
gLR.selectAll(null).data(stormHours.slice(1)).enter().append('rect')
  .attr('x', d => xLeft(d) - 1.5).attr('y', 145.5).attr('width', 3).attr('height', 3).attr('fill', '#e01010');
gLR.selectAll(null).data(stormHours).enter().append('circle')
  .attr('cx', d => xLeft(d)).attr('cy', 173.5).attr('r', 2.2)
  .attr('fill', (d, i) => stormColors[i]).attr('stroke', '#000').attr('stroke-width', .8);
gLR.selectAll(null).data(leftConvHours).enter().append('rect')
  .attr('x', d => xLeft(d) - 1.5).attr('y', 218.8).attr('width', 3).attr('height', 2).attr('fill', '#e01010');
frame(gLR, lRain);
axisAt(gLR, 'left', 128, yLR, [0, .5, 1, 1.5, 2], '#000', d3.format('.1f'));
axisAt(gLR, 'right', 254, yLH, [50, 61, 73, 84, 96], RH_ORANGE);

const lPress = { left: 135.5, right: 245.5, top: 229.5, bottom: 307 };
const yLP = d3.scaleLinear().domain([1012, 1018]).range([301.7, 231]);
const gLP = svg.append('g');
segmentedArea(gLP, { x: xLeft, y: yLP, hours: leftHours, values: leftPressure, box: lPress,
  colors: ['#ffff00', '#ffcc10', '#ffff00'], segHours: [14, 18.4, 19, 30] });
grid(gLP, xLeft, leftGridHours, yLP, [1012, 1014, 1016, 1018], lPress);
gLP.append('path').attr('d', d3.line().x((d, i) => xLeft(leftHours[i])).y(d => yLP(d))(leftPressure))
  .attr('fill', 'none').attr('stroke', '#000').attr('stroke-width', 2);
frame(gLP, lPress);
axisAt(gLP, 'left', 128, yLP, [1012, 1014, 1016, 1018]);
axisAt(gLP, 'right', 251, yLP, [1012, 1014, 1016, 1018]);

const lWind = { left: 135.5, right: 245.5, top: 315, bottom: 392 };
const yLW = d3.scaleLinear().domain([0, 20]).range([392, 315.5]);
const yLK = d3.scaleLinear().domain([0, 72]).range([392, 315.5]);
const gLW = drawWind({ x: xLeft, y: yLW, box: lWind, hours: leftHours, gridX: leftGridHours, speed: leftWind,
  colors: leftWindSegColors, segHours: leftWindSegHours, gust: leftGust, main: false });
gLW.append('rect').attr('x', xLeft(15) - 5).attr('y', 316).attr('width', 2).attr('height', 2).attr('fill', RED);
axisAt(gLW, 'left', 128, yLW, [0, 5, 10, 15, 20]);
axisAt(gLW, 'right', 251, yLK, [0, 18, 36, 54, 72]);

const lDir = { left: 135.5, right: 245.5, top: 398, bottom: 430.5 };
const gLD = svg.append('g');
grid(gLD, xLeft, leftGridHours, d3.scaleLinear(), [], lDir);
frame(gLD, lDir);
gLD.selectAll(null).data(leftWindTo).enter().append('path')
  .attr('transform', (d, i) => `translate(${xLeft(leftHours[i]) + 4},423) rotate(${d})`)
  .attr('d', 'M0,21 L0,0 M-3,5 L0,0 L3,5 Z').attr('fill', '#10109c').attr('stroke', '#10109c').attr('stroke-width', 1);

const lBase = { left: 135.5, right: 245.5, top: 436, bottom: 514.3 };
const yLB = d3.scaleLinear().domain(hEdges).range([514.3, 495, 475, 456, 436]);
const yLV = d3.scaleLinear().domain(visEdges).range([514.3, 495, 475, 456, 436]);
const gLB = drawCloudBase({ x: xLeft, y: yLB, yVis: yLV, box: lBase, hours: leftHours, gridX: leftGridHours,
  top: leftCloudTop, vis: leftVisibility, shade: shadeLeft, r: 3.2, idx: 2, main: false });
axisAt(gLB, 'left', 128, yLB, hEdges, '#000', d3.format('.1f'));
axisAt(gLB, 'right', 251, yLV, visEdges, ORANGE);

const lCover = { left: 135.5, right: 245.5, top: 523.3, bottom: 601.3 };
const yLC = d3.scaleLinear().domain([0, 8]).range([601.3, 523.3]);
const yLF = d3.scaleLinear().domain([0, 1]).range([601.3, 523.3]);
const gLC = drawClouds({ x: xLeft, y: yLC, yFog: yLF, box: lCover, hours: leftHours, gridX: leftGridHours,
  high: leftCloudHigh, mid: leftCloudMid, low: leftCloudLow, veryLow: leftCloudVeryLow,
  fogHours: leftFogHours, fogVals: leftFogVals, shade: shadeLeft, main: false });
axisAt(gLC, 'left', 128, yLC, [0, 2, 4, 6, 8]);
axisAt(gLC, 'right', 251, yLF, [0, .25, .5, .75, 1], ORANGE);

// ---- time labels
const gTime = svg.append('g');
gTime.selectAll(null).data(labelHours).enter().append('text')
  .attr('x', d => xMain(d)).attr('y', 54).attr('text-anchor', 'middle').style('font-size', '12.5px').text((d, i) => cetLabels[i]);
gTime.selectAll(null).data(labelHours).enter().append('text')
  .attr('x', d => xMain(d)).attr('y', 617).attr('text-anchor', 'middle').style('font-size', '12.5px').text((d, i) => utcLabels[i]);
[[164, '20', 51], [204.5, '02', 51], [245, '08', 51], [164, '18', 614], [204.5, '00', 614], [245, '06', 614]]
  .forEach(t => label(t[0], t[2], t[1], '#000', 'middle', 12.5));
label(306, 54, 'CET', '#000', 'start', 12.5); label(860, 54, 'CET', '#000', 'start', 12.5);
label(306, 617, 'UTC', '#000', 'start', 12.5); label(860, 617, 'UTC', '#000', 'start', 12.5);
label(418, 42, 'pon, 17.11', '#000', 'middle', 12.5);
label(572, 42, 'wto, 18.11', '#000', 'middle', 12.5);
label(725, 42, 'śro, 19.11', '#000', 'middle', 12.5);
label(418, 629, '17.11', '#000', 'middle', 12.5);
label(572, 629, '18.11', '#000', 'middle', 12.5);
label(725, 629, '19.11', '#000', 'middle', 12.5);

// ---- header and footer
label(363.5, 12, 'wschód słońca: 07:04 CET', NAVY, 'middle', 12.4);
label(363.5, 25, 'zachód słońca: 15:31 CET', NAVY, 'middle', 12.4);
label(595, 12, '21°43\'31"E, 53°59\'46"N', NAVY, 'middle', 12.4);
label(595, 25, '(x=261,  y=355)', NAVY, 'middle', 12.4);
label(818, 12, 'wysokość (min, środek, max)', NAVY, 'middle', 12.4);
label(818, 25, '121 - 141 - 157 m', NAVY, 'middle', 12.4);
label(309, 653, 'meteo@icm.edu.pl', NAVY, 'start', 13);
label(623, 653, '© 2007-2025 ICM, Uniwersytet Warszawski', NAVY, 'start', 13);

// ---- vertical axis names
vlabel(293, 96, 'temperatura'); vlabel(307, 96, '(°C)');
vlabel(293, 183, 'opad'); vlabel(307, 183, '(mm/h, kg/m²/h)');
vlabel(293, 268, 'ciśnienie'); vlabel(307, 268, '(hPa)');
vlabel(293, 355, 'wiatr'); vlabel(307, 355, '(m/s)');
vlabel(293, 473, 'pion. rozciągł. chm.'); vlabel(307, 476, '(km)');
vlabel(293, 572, 'zachmurzenie'); vlabel(307, 572, '(oktanty)');
vlabel(890, 96, '(°C)'); vlabel(905, 96, 'temperatura');
vlabel(890, 186, '(%)'); vlabel(905, 186, 'wilgotność wzgl.');
vlabel(890, 268, '(mm Hg)'); vlabel(905, 268, 'ciśnienie');
vlabel(890, 355, '(km/h)'); vlabel(905, 355, 'wiatr');
vlabel(890, 476, '(km)'); vlabel(905, 476, 'widzialność');
vlabel(890, 563, '(frakcja)'); vlabel(905, 563, 'mgła');

// compass roses
[0, 598].forEach(dx => {
  label(284 + dx, 421, 'W', NAVY, 'start', 13);
  label(296 + dx, 411, 'N', NAVY, 'start', 13);
  label(303 + dx, 419, 'E', NAVY, 'start', 13);
  label(295 + dx, 428, 'S', NAVY, 'start', 13);
});

// ---- legend of the left meteogram
const legend = [
  [5, 18, 'Czas lokalny', '#000'], [6, 31, '(CET/CEST)', '#000'],
  [6, 46, 'Temperatura gruntu', DARKRED], [27, 57, 'max/min', DARKRED], [6, 68, 'Temperatura:', '#000'],
  [13, 81, 'punkt środkowy', RED], [28, 91, 'max/min', '#ffd8c8'], [10, 103, 'odczuwana', '#0000ee'],
  [28, 112, 'max/min', '#a8e0ff'], [6, 124, 'Temp. punktu rosy', DEW],
  [6, 142, 'Opad powyżej skali', RED], [6, 155, 'Wilgotność względna', RH_ORANGE], [6, 169, 'Wystąpienie burzy', '#000'],
  [6, 184, 'Deszcz: max', '#00a000'], [49, 195, 'średni', '#00a000'], [6, 206, 'Śnieg:', '#1030d0'],
  [49, 206, 'max', '#1030d0'], [49, 217, 'średni', '#1030d0'], [5, 228, 'Wystąpienie opadu', RED], [5, 241, 'konwekcyjnego', RED],
  [5, 268, 'Ciśnienie', '#000'], [5, 280, 'zredukowane', '#000'], [5, 293, 'do poziomu morza', '#000'],
  [5, 323, 'Wiatr na 10m:', '#000'], [10, 339, 'poryw powyżej skali', RED], [10, 353, 'max porywy wiatru', RED],
  [10, 371, 'prędkość wiatru', NAVY], [10, 385, 'w środku obszaru', NAVY], [10, 413, 'kierunek wiatru', NAVY],
  [5, 433, 'Wierzchołek chmur', DARKRED], [5, 449, 'Podstawa chmur*', '#000'], [5, 460, 'o pokryciu', '#000'],
  [11, 473, '> 7.9 okt.', '#000'], [11, 484, '> 6.5 okt.', '#555'], [11, 495, '> 4.5 okt.', '#999'], [11, 506, '> 2.5 okt.', '#ddd'],
  [6, 530, 'Widzialność', ORANGE], [5, 547, 'Chmury:', '#000'], [9, 573, 'średnie', '#999'],
  [9, 585, 'niskie', '#333'], [9, 597, 'bardzo niskie', '#333'], [6, 609, 'Mgła', '#f0b000'], [6, 626, 'Czas uniwersalny (UTC)', '#000']
];
svg.append('rect').attr('x', 11).attr('y', 505).attr('width', 44).attr('height', 12.5).attr('fill', SKY);
svg.append('rect').attr('x', 10).attr('y', 551).attr('width', 41).attr('height', 12.5).attr('fill', SKY);
legend.forEach(l => label(l[0], l[1], l[2], l[3], 'start', 11));
label(11, 516, '> 0.1 okt.', '#fff', 'start', 11);
label(11, 561, 'wysokie', '#fff', 'start', 11);
svg.append('text').attr('x', 5).attr('y', 651).attr('font-weight', 'bold').style('font-size', '9px').text('* powyżej poziomu morza');

const leaders = [
  ['#000', 'M68,16 L133,16 L156,45'],
  [DARKRED, 'M102,43 L120,43 L155,95'],
  [RED, 'M92,77 L117,77'], [RED, 'M130,76 L138,78 L160,100'],
  ['#0000ee', 'M70,99 L136,99'],
  [DEW, 'M94,120 L125,120 L138,113'],
  [RED, 'M103,137 L135,137 L146,147'],
  [RH_ORANGE, 'M107,151 L113,151'], [RH_ORANGE, 'M131,150 L140,153 L148,168'],
  ['#000', 'M103,166 L113,166'], ['#000', 'M130,164 L136,169 L138,172'],
  ['#00a000', 'M71,179 L136,179'], ['#00a000', 'M81,191 L136,191'],
  ['#1030d0', 'M71,202 L113,202'], ['#1030d0', 'M131,202 L161,171'], ['#1030d0', 'M81,213 L130,213 L160,185'],
  [RED, 'M97,224 L140,224 L147,220'],
  ['#000', 'M51,264 L128,264 L136,262'],
  [RED, 'M112,335 L118,335'], [RED, 'M130,335 L135,322 L139,315'],
  [RED, 'M107,349 L130,349 L146,340'],
  [NAVY, 'M92,367 L136,367'], [NAVY, 'M86,410 L140,410'],
  [DARKRED, 'M100,430 L137,433 L185,447'],
  ['#000', 'M57,468 L140,468 L192,455'],
  ['#555', 'M57,480 L143,480'],
  ['#999', 'M57,491 L132,491 L143,503'],
  ['#ddd', 'M57,502 L127,502 L143,510'],
  [SKY, 'M58,509 L136,509'], [SKY, 'M58,514 L136,514'],
  [ORANGE, 'M67,527 L128,527 L175,465'],
  [SKY, 'M54,556 L185,556'], [SKY, 'M54,559 L185,559'],
  ['#999', 'M50,571 L193,571'],
  ['#333', 'M37,582 L125,582'], ['#333', 'M132,582 L136,582'],
  ['#333', 'M74,594 L140,594 L150,600'],
  ['#f0b000', 'M26,605 L218,605 L222,595'],
  ['#000', 'M139,623 L148,623 L157,611']
];
svg.append('g').attr('fill', 'none').selectAll('path').data(leaders).enter().append('path')
  .attr('d', d => d[1]).attr('stroke', d => d[0]).attr('stroke-width', 1);
</script>
</body>
</html>
